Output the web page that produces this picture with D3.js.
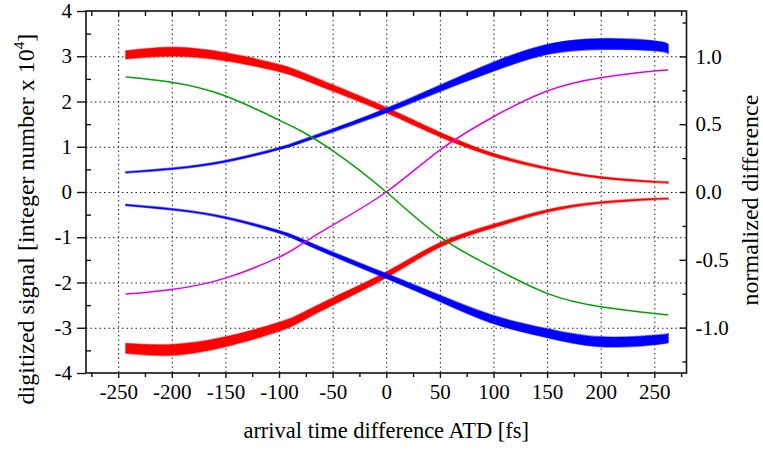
<!DOCTYPE html>
<html>
<head>
<meta charset="utf-8">
<script src="https://cdn.jsdelivr.net/npm/d3@7"></script>
<style>
  body { margin: 0; background: #fff; }
  text { font-family: "Liberation Serif", "Times New Roman", serif; fill: #000; }
</style>
</head>
<body>
<svg id="chart" width="763" height="449"></svg>
<script>
// Arrival time difference samples [fs]
const atd = [-243, -200, -150, -100, -80, -50, 0, 50, 100, 150, 200, 250, 263];

// Digitized signals [integer number x 10^4] (left axis)
const redUpper  = [3.03, 3.10, 2.99, 2.74, 2.585, 2.30, 1.81, 1.27, 0.82, 0.52, 0.32, 0.225, 0.21];
const redLower  = [-3.455, -3.49, -3.31, -2.98, -2.78, -2.42, -1.83, -1.17, -0.75, -0.42, -0.235, -0.155, -0.148];
const blueUpper = [0.435, 0.515, 0.678, 0.96, 1.11, 1.36, 1.80, 2.29, 2.77, 3.15, 3.27, 3.23, 3.16];
const blueLower = [-0.287, -0.383, -0.567, -0.88, -1.06, -1.37, -1.856, -2.35, -2.82, -3.12, -3.31, -3.27, -3.23];

// Shot-to-shot scatter of each digitized signal (full band width, same units)
const redUpperSpread  = [0.18, 0.20, 0.18, 0.16, 0.15, 0.14, 0.12, 0.10, 0.07, 0.05, 0.04, 0.032, 0.03];
const redLowerSpread  = [0.22, 0.24, 0.22, 0.20, 0.18, 0.16, 0.13, 0.10, 0.08, 0.06, 0.04, 0.032, 0.03];
const blueUpperSpread = [0.03, 0.035, 0.04, 0.05, 0.06, 0.07, 0.10, 0.14, 0.20, 0.22, 0.24, 0.22, 0.20];
const blueLowerSpread = [0.03, 0.035, 0.04, 0.06, 0.075, 0.09, 0.11, 0.14, 0.18, 0.20, 0.22, 0.21, 0.20];

// Normalized differences (right axis)
const diffGreen   = [0.848, 0.809, 0.708, 0.53, 0.452, 0.305, 0.0, -0.331, -0.558, -0.748, -0.847, -0.896, -0.906];
const diffMagenta = [-0.753, -0.719, -0.635, -0.48, -0.39, -0.244, 0.0, 0.309, 0.555, 0.745, 0.843, 0.892, 0.90];

// Axis ticks
const xMajor = [-250, -200, -150, -100, -50, 0, 50, 100, 150, 200, 250];
const xMinor = [-275, -225, -175, -125, -75, -25, 25, 75, 125, 175, 225, 275];
const leftMajor = [-4, -3, -2, -1, 0, 1, 2, 3, 4];
const leftMinor = [-3.5, -2.5, -1.5, -0.5, 0.5, 1.5, 2.5, 3.5];
const rightMajor = [-1, -0.5, 0, 0.5, 1];
const rightMajorLabels = ["-1.0", "-0.5", "0.0", "0.5", "1.0"];
const rightMinor = [-1.25, -0.75, -0.25, 0.25, 0.75, 1.25];
const gridY = [-3, -2, -1, 0, 1, 2, 3];

const W = 763, H = 449;
const margin = { left: 86, right: W - 686.5, top: 11, bottom: H - 373 };
const serif = '"Liberation Serif", "Times New Roman", serif';

const svg = d3.select("#chart");

const x = d3.scaleLinear().domain([-280, 280]).range([margin.left, W - margin.right]);
const yL = d3.scaleLinear().domain([-4, 4]).range([H - margin.bottom, margin.top]);
const yR = d3.scaleLinear().domain([-1.335, 1.335]).range([H - margin.bottom, margin.top]);

const x0 = x.range()[0], x1 = x.range()[1];
const yTop = yL.range()[1], yBot = yL.range()[0];

// dotted grid
const grid = svg.append("g").attr("stroke", "#111").attr("stroke-width", 1)
  .attr("stroke-dasharray", "1.4,3.1");
grid.selectAll("line.v").data(xMajor).join("line").attr("class", "v")
  .attr("x1", d => x(d) + 0.5).attr("x2", d => x(d) + 0.5)
  .attr("y1", yTop).attr("y2", yBot);
grid.selectAll("line.h").data(gridY).join("line").attr("class", "h")
  .attr("y1", d => yL(d) + 0.5).attr("y2", d => yL(d) + 0.5)
  .attr("x1", x0).attr("x2", x1);

// curves
const curve = d3.curveNatural;
const plot = svg.append("g");

function band(values, spread, color) {
  const rows = atd.map((t, i) => ({ t, v: values[i], s: spread[i] }));
  const area = d3.area().curve(curve)
    .x(d => x(d.t))
    .y0(d => yL(d.v - d.s / 2))
    .y1(d => yL(d.v + d.s / 2));
  plot.append("path").datum(rows).attr("d", area)
    .attr("fill", color).attr("stroke", color)
    .attr("stroke-width", 1.4).attr("stroke-opacity", 0.5);
}

function thin(values, scale, color) {
  const rows = atd.map((t, i) => ({ t, v: values[i] }));
  const line = d3.line().curve(curve).x(d => x(d.t)).y(d => scale(d.v));
  plot.append("path").datum(rows).attr("d", line)
    .attr("fill", "none").attr("stroke", color).attr("stroke-width", 1.5);
}

band(redUpper, redUpperSpread, "#ff0000");
band(redLower, redLowerSpread, "#ff0000");
band(blueUpper, blueUpperSpread, "#0000ff");
band(blueLower, blueLowerSpread, "#0000ff");
thin(diffGreen, yR, "#00a000");
thin(diffMagenta, yR, "#e000e8");

// axes
const fmtInt = d => String(d);
const tickFont = 21;
function styleAxis(g) {
  g.attr("font-family", null).attr("font-size", null);
  g.select(".domain").remove();
  g.selectAll(".tick line").attr("stroke", "#111").attr("stroke-width", 1.4);
  g.selectAll(".tick text").attr("fill", "#000")
    .style("font-family", serif).style("font-size", tickFont + "px");
}

svg.append("g").attr("transform", `translate(0,${yBot})`)
  .call(d3.axisBottom(x).tickValues(xMajor).tickSize(5).tickPadding(6).tickFormat(fmtInt))
  .call(styleAxis);
svg.append("g").attr("transform", `translate(0,${yBot})`)
  .call(d3.axisBottom(x).tickValues(xMinor).tickSize(4).tickFormat(""))
  .call(styleAxis);

svg.append("g").attr("transform", `translate(0,${yTop})`)
  .call(d3.axisTop(x).tickValues(xMajor.concat(xMinor)).tickSize(-5).tickFormat(""))
  .call(styleAxis);

svg.append("g").attr("transform", `translate(${x0},0)`)
  .call(d3.axisLeft(yL).tickValues(leftMajor).tickSize(9).tickPadding(5).tickFormat(fmtInt))
  .call(styleAxis);
svg.append("g").attr("transform", `translate(${x0},0)`)
  .call(d3.axisLeft(yL).tickValues(leftMinor).tickSize(-5).tickFormat(""))
  .call(styleAxis);

svg.append("g").attr("transform", `translate(${x1},0)`)
  .call(d3.axisRight(yR).tickValues(rightMajor).tickSize(-7).tickPadding(9)
    .tickFormat((d, i) => rightMajorLabels[i]))
  .call(styleAxis);
svg.append("g").attr("transform", `translate(${x1},0)`)
  .call(d3.axisRight(yR).tickValues(rightMinor).tickSize(-4).tickFormat(""))
  .call(styleAxis);

// frame
svg.append("rect").attr("x", x0).attr("y", yTop)
  .attr("width", x1 - x0).attr("height", yBot - yTop)
  .attr("fill", "none").attr("stroke", "#111").attr("stroke-width", 1.6);

// axis titles
svg.append("text").attr("x", (x0 + x1) / 2).attr("y", 438)
  .attr("text-anchor", "middle").style("font-family", serif).style("font-size", "22.5px")
  .text("arrival time difference ATD [fs]");

const lt = svg.append("text").attr("transform", "translate(34,219) rotate(-90)")
  .attr("text-anchor", "middle").style("font-family", serif).style("font-size", "24px");
lt.append("tspan").text("digitized signal [integer number x 10");
lt.append("tspan").style("font-size", "15px").attr("dy", -10).text("4");
lt.append("tspan").attr("dy", 10).text("]");

svg.append("text").attr("transform", "translate(758,200) rotate(-90)")
  .attr("text-anchor", "middle").style("font-family", serif).style("font-size", "24px")
  .text("normalized difference");
</script>
</body>
</html>
